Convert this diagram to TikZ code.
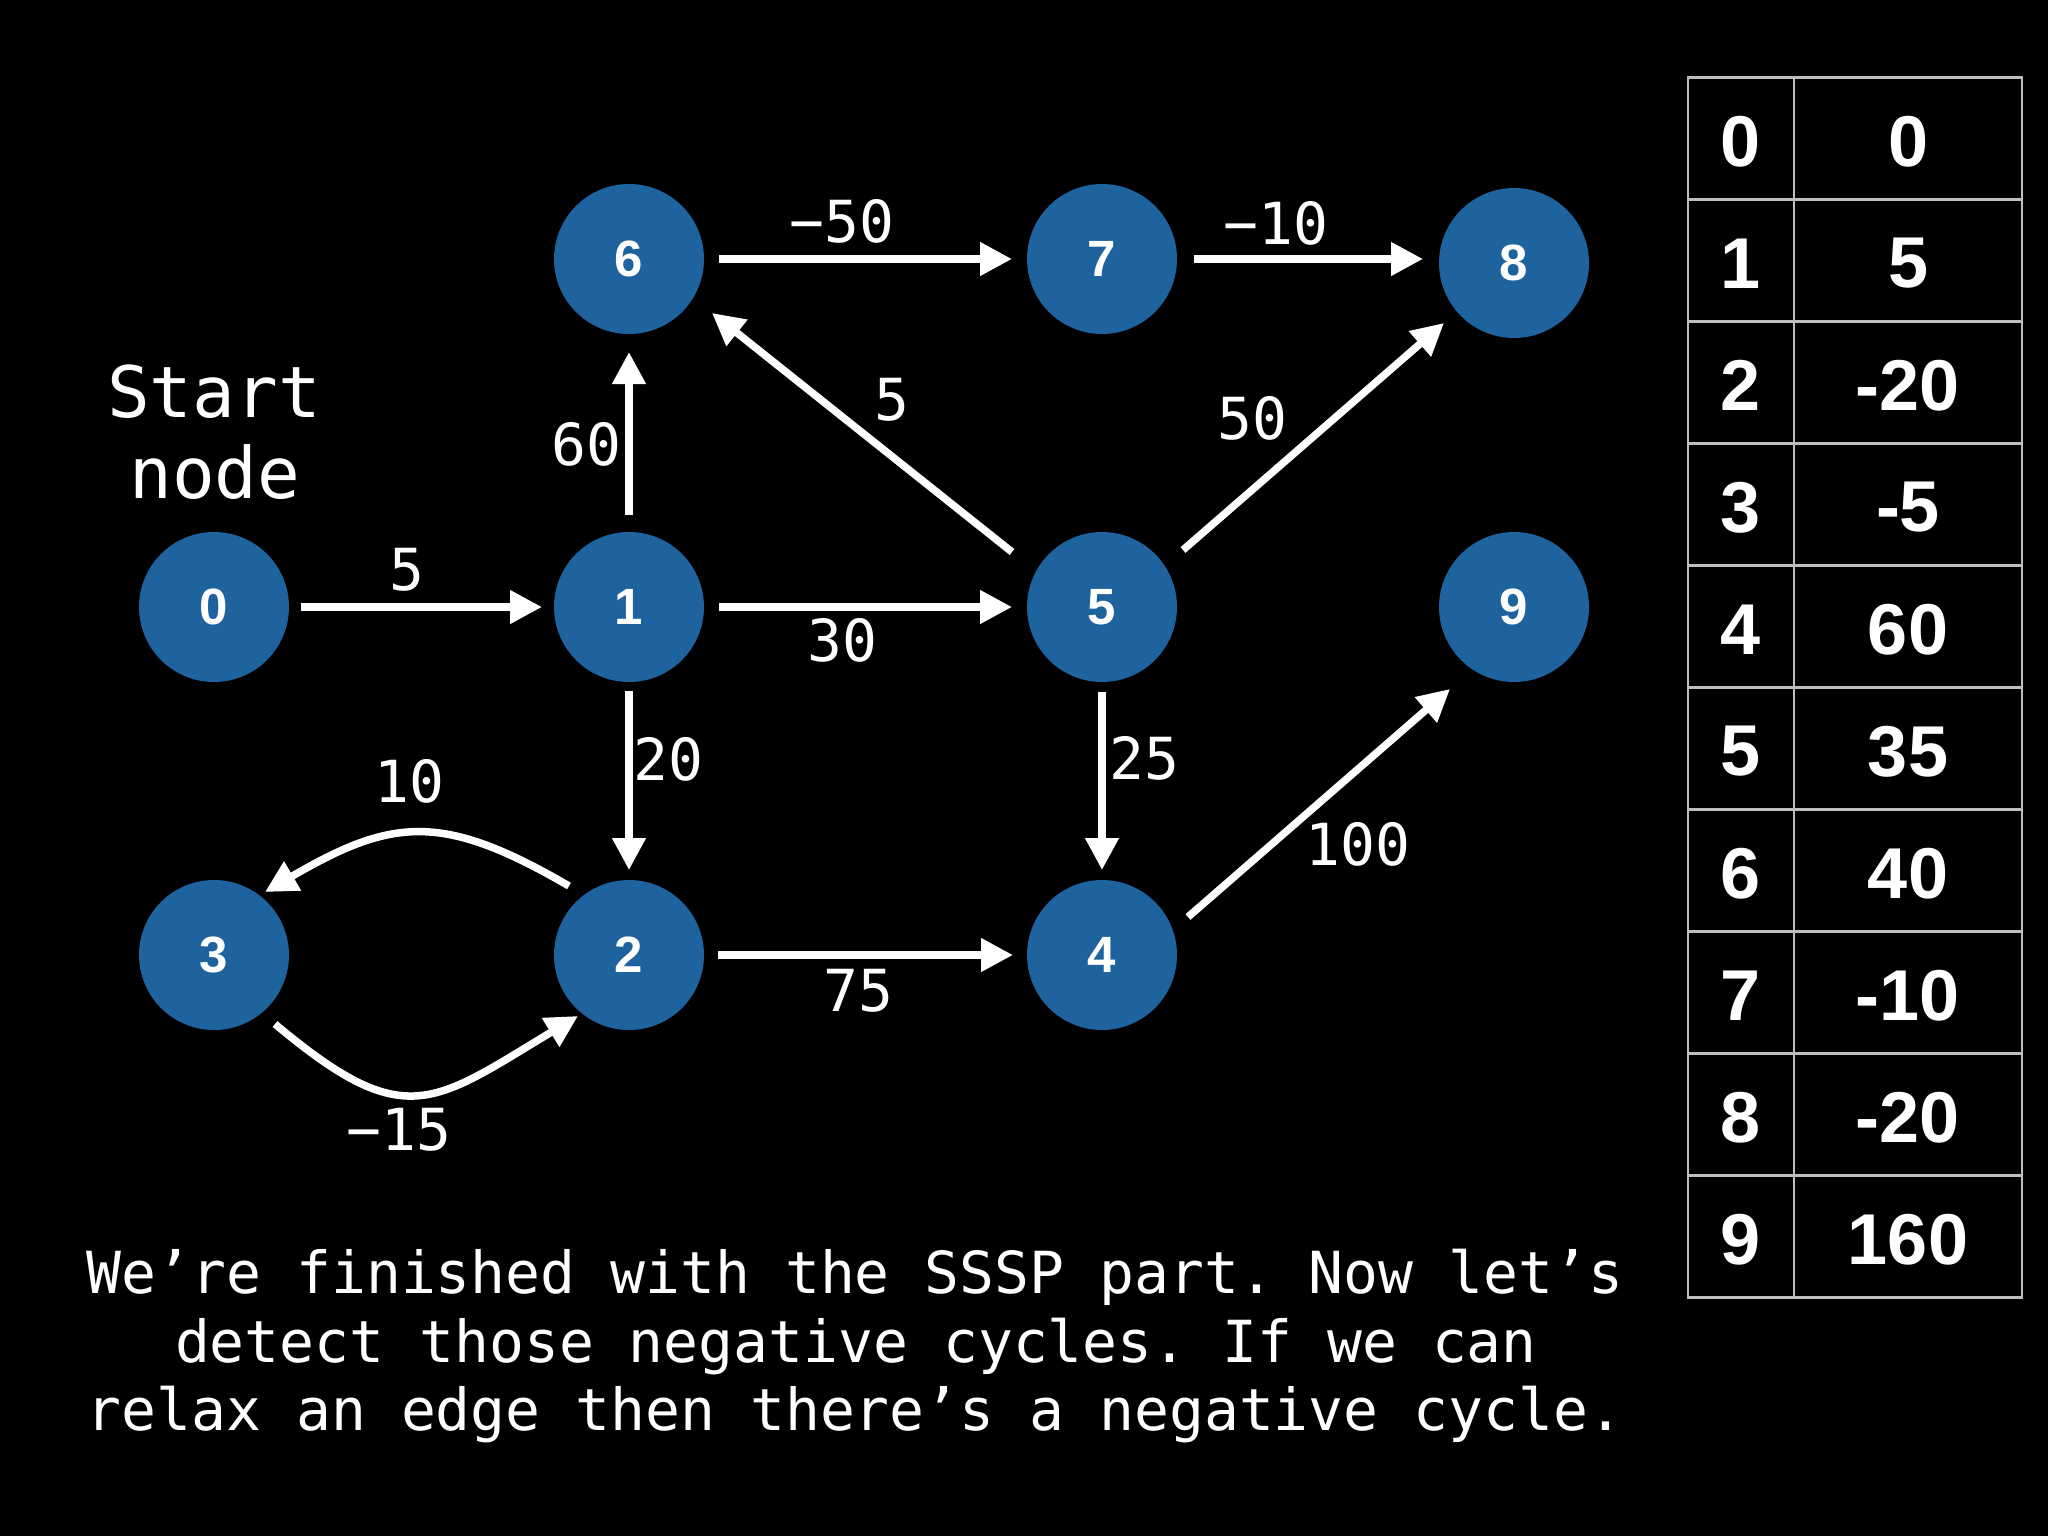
\documentclass[tikz,border=0pt]{standalone}
\usepackage{fontspec}
\usetikzlibrary{arrows.meta,calc}
\newfontfamily\monofam{DejaVu Sans Mono}
\newfontfamily\helv{Liberation Sans}
\definecolor{nodeblue}{RGB}{30,98,158}
\definecolor{gridgray}{RGB}{190,190,190}
\frenchspacing
\begin{document}
\begin{tikzpicture}[x=1pt,y=-1pt,
  vertex/.style={circle,fill=nodeblue,minimum size=150pt,inner sep=0pt,text=white,
    font=\helv\bfseries\fontsize{51}{51}\selectfont},
  arr/.style={draw=white,line width=7.5pt,-{Triangle[length=32pt,width=32pt]}},
  wlabel/.style={text=white,inner sep=0pt,font=\monofam\fontsize{58}{58}\selectfont},
  cell/.style={text=white,inner sep=0pt,font=\helv\bfseries\fontsize{72}{72}\selectfont},
  txt/.style={text=white,inner sep=0pt,anchor=base,font=\monofam\fontsize{58}{58}\selectfont},
  bigtxt/.style={text=white,inner sep=0pt,anchor=base,font=\monofam\fontsize{71}{71}\selectfont},
  grid/.style={draw=gridgray,line width=2.5pt}]
\useasboundingbox (0,0) rectangle (2048,1536);
\fill[black] (0,0) rectangle (2048,1536);

% vertices
\node[vertex] (0) at (214,607) {0};
\node[vertex] (1) at (629,607) {1};
\node[vertex] (2) at (629,955) {2};
\node[vertex] (3) at (214,955) {3};
\node[vertex] (4) at (1102,955) {4};
\node[vertex] (5) at (1102,607) {5};
\node[vertex] (6) at (629,259) {6};
\node[vertex] (7) at (1102,259) {7};
\node[vertex] (8) at (1514,263) {8};
\node[vertex] (9) at (1514,607) {9};

% edges
\draw[arr] ($(0)+(87,0)$) -- ($(1)+(-87,0)$);
\draw[arr] ($(1)+(90,0)$) -- ($(5)+(-90,0)$);
\draw[arr] ($(1)+(0,-92)$) -- ($(6)+(0,93)$);
\draw[arr] ($(1)+(0,84)$) -- ($(2)+(0,-85)$);
\draw[arr] ($(6)+(90,0)$) -- ($(7)+(-90,0)$);
\draw[arr] ($(7)+(92,0)$) -- ($(8)+(-91,-4)$);
\draw[arr] ($(5)+(-90,-55)$) -- ($(6)+(83,54)$);
\draw[arr] ($(5)+(81,-57)$) -- ($(8)+(-70,60)$);
\draw[arr] ($(5)+(0,85)$) -- ($(4)+(0,-85)$);
\draw[arr] ($(2)+(89,0)$) -- ($(4)+(-89,0)$);
\draw[arr] ($(4)+(86,-38)$) -- ($(9)+(-64,82)$);
\draw[arr] ($(2)+(-60,-69)$) .. controls (442,812) and (392,818) .. ($(3)+(51,-63)$);
\draw[arr] ($(3)+(61,69)$) .. controls (405,1133) and (432,1104) .. ($(2)+(-51,61)$);

% edge labels
\node[wlabel] (l01) at (407,570) {5};
\node[wlabel] (l15) at (842,640) {30};
\node[wlabel] (l16) at (586,444) {60};
\node[wlabel] (l12) at (668,759) {20};
\node[wlabel] (l67) at (842,221) {−50};
\node[wlabel] (l78) at (1276,223) {−10};
\node[wlabel] (l56) at (892,400) {5};
\node[wlabel] (l58) at (1252,418) {50};
\node[wlabel] (l54) at (1144,758) {25};
\node[wlabel] (l24) at (858,991) {75};
\node[wlabel] (l49) at (1358,844) {100};
\node[wlabel] (l23) at (409,781) {10};
\node[wlabel] (l32) at (399,1130) {−15};

% start label
\node[bigtxt] (st1) at (214,417) {Start};
\node[bigtxt] (st2) at (215,498) {node};

% caption
\node[txt] (c1) at (855,1293) {We’re finished with the SSSP part. Now let’s};
\node[txt] (c2) at (856,1362) {detect those negative cycles. If we can};
\node[txt] (c3) at (855,1430) {relax an edge then there’s a negative cycle.};

% table
\draw[grid] (1688,77.5) rectangle (2022,1297.5);
\draw[grid] (1794,77.5) -- (1794,1297.5);
\foreach \i in {1,...,9} {
  \draw[grid] (1688,77.5+122*\i) -- (2022,77.5+122*\i);
}
\foreach \k/\v [count=\i from 0] in {0/0,1/5,2/-20,3/-5,4/60,5/35,6/40,7/-10,8/-20,9/160} {
  \node[cell] (k\k) at (1740.5,141.5+122*\i) {\k};
  \node[cell] (v\k) at (1908,141.5+122*\i) {\v};
}
\end{tikzpicture}
\end{document}
